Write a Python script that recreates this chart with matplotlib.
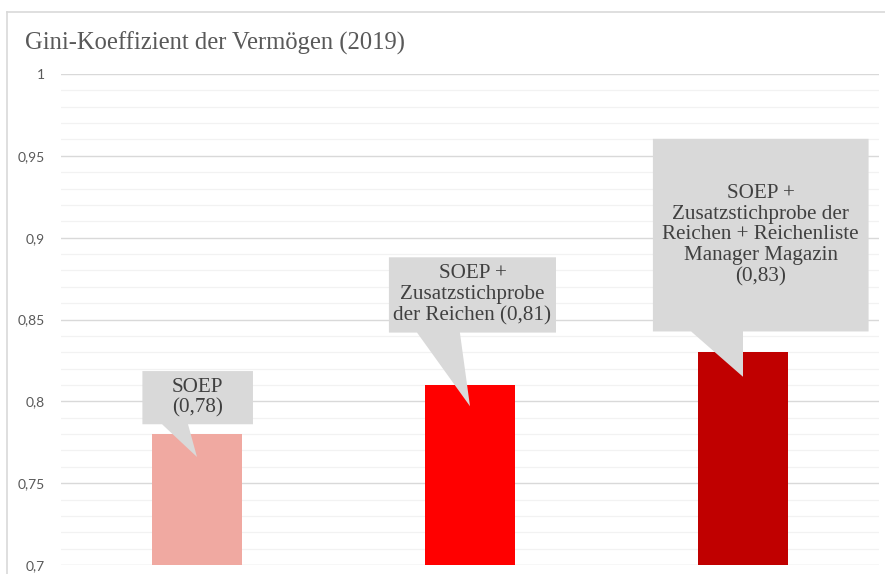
import matplotlib
matplotlib.use("Agg")
import matplotlib.pyplot as plt
from matplotlib.patches import Polygon
from matplotlib.lines import Line2D

# ---- data ----
categories = ["SOEP", "SOEP + Zusatzstichprobe der Reichen",
              "SOEP + Zusatzstichprobe der Reichen + Reichenliste Manager Magazin"]
values = [0.78, 0.81, 0.83]
labels = ["SOEP\n(0,78)",
          "SOEP +\nZusatzstichprobe\nder Reichen (0,81)",
          "SOEP +\nZusatzstichprobe der\nReichen + Reichenliste\nManager Magazin\n(0,83)"]
colors = ["#F0A9A1", "#FF0000", "#C00000"]
yticks = [0.7, 0.75, 0.8, 0.85, 0.9, 0.95, 1.0]
ytick_labels = ["0,7", "0,75", "0,8", "0,85", "0,9", "0,95", "1"]
title = "Gini-Koeffizient der Vermögen (2019)"

W, H = 885, 574
fig = plt.figure(figsize=(W / 100, H / 100), dpi=100)
fig.patch.set_facecolor("white")

# outer frame
fig.add_artist(Line2D([7 / W, 7 / W], [0, 1 - 12 / H], color="#D9D9D9", lw=1.2))
fig.add_artist(Line2D([7 / W, 1], [1 - 12 / H, 1 - 12 / H], color="#D9D9D9", lw=1.2))

left, right, top, bottom = 60.5, 879.5, 74, 565
ax = fig.add_axes([left / W, (H - bottom) / H, (right - left) / W, (bottom - top) / H])
ax.set_xlim(-0.5, 2.5)
ax.set_ylim(0.7, 1.0)
for s in ax.spines.values():
    s.set_visible(False)

# gridlines
for k in range(31):
    y = 0.7 + k * 0.01
    major = (k % 5 == 0)
    ax.axhline(y, color="#D9D9D9" if major else "#F2F2F2", lw=1.0 if major else 0.9, zorder=0)

ax.bar(range(3), [v - 0.7 for v in values], bottom=0.7, width=0.333, color=colors, zorder=2)

ax.set_xticks([])
ax.set_yticks(yticks)
ax.set_yticklabels(ytick_labels, fontfamily="Lato", fontsize=10, color="#595959")
ax.tick_params(axis="y", length=0, pad=11)

# callouts: (x0, x1, y0, y1, base_a, base_b, tip_offset) relative to category/value
callouts = [
    (-0.20, 0.205, 0.786, 0.8185, -0.128, -0.033, 0.014),
    (-0.297, 0.315, 0.842, 0.888, -0.194, -0.037, 0.013),
    (-0.33, 0.46, 0.8427, 0.9604, -0.19, 0.0, 0.015),
]
for i, (v, lab, c) in enumerate(zip(values, labels, callouts)):
    x0, x1, y0, y1, ba, bb, toff = c
    pts = [(i + x0, y1), (i + x1, y1), (i + x1, y0), (i + bb, y0),
           (i, v - toff), (i + ba, y0), (i + x0, y0)]
    ax.add_patch(Polygon(pts, closed=True, facecolor="#D9D9D9", edgecolor="none", zorder=3))
    ax.text(i + (x0 + x1) / 2, (y0 + y1) / 2, lab, ha="center", va="center",
            fontfamily="Liberation Serif", fontsize=15.2, color="#404040",
            linespacing=1.13, zorder=4)

fig.text(25 / W, 1 - 43 / H, title, ha="left", va="center",
         fontfamily="Liberation Serif", fontsize=17.7, color="#595959")

fig.savefig("out.png", dpi=100)
